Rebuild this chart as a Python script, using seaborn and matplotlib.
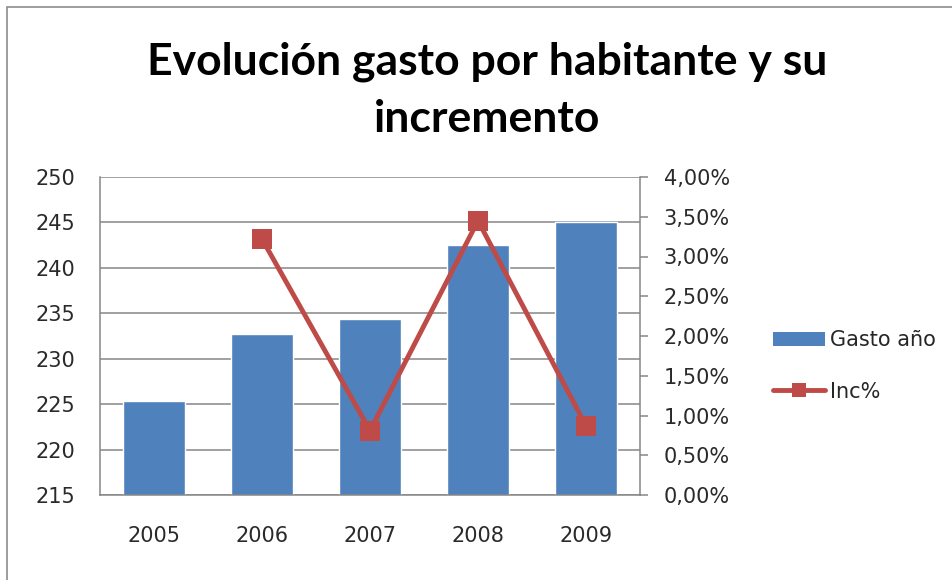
import matplotlib
matplotlib.use('Agg')
import matplotlib.pyplot as plt
import seaborn as sns
import pandas as pd
import numpy as np
from matplotlib.ticker import FuncFormatter
from matplotlib.patches import Patch, Rectangle
from matplotlib.lines import Line2D

# ---- data ----
years = ['2005', '2006', '2007', '2008', '2009']
gasto = [225.3, 232.7, 234.4, 242.5, 245.0]
inc = [np.nan, 0.0322, 0.0081, 0.0345, 0.0087]
left_ticks = [215, 220, 225, 230, 235, 240, 245, 250]
right_ticks = [0.0, 0.005, 0.01, 0.015, 0.02, 0.025, 0.03, 0.035, 0.04]
series_names = ['Gasto año', 'Inc%']
title = 'Evolución gasto por habitante y su\nincremento'

df = pd.DataFrame({'year': years, 'gasto': gasto, 'inc': inc})

BAR = '#4F81BD'
LINE = '#BE4B48'
GRID = '#868686'

sns.set_theme(style='white')
plt.rcParams['font.family'] = ['DejaVu Sans']

fig = plt.figure(figsize=(9.53, 5.80), dpi=100)
W, H = 953, 580
ax = fig.add_axes([100 / W, 85 / H, 540 / W, 318 / H])

sns.barplot(data=df, x='year', y='gasto', order=years, color=BAR,
            saturation=1, width=0.58, ax=ax, zorder=2, errorbar=None)
ax.set_ylim(215, 250)
ax.set_yticks(left_ticks)
ax.set_yticklabels([str(t) for t in left_ticks])
ax.yaxis.grid(True, color=GRID, lw=1.1)
ax.set_axisbelow(True)
ax.set_xlabel('')
ax.set_ylabel('')
for s in ['top', 'right']:
    ax.spines[s].set_visible(False)
for s in ['left', 'bottom']:
    ax.spines[s].set_color(GRID)
    ax.spines[s].set_linewidth(1.1)
ax.tick_params(axis='y', length=0, pad=18, labelsize=15, colors='#2a2a2a')
ax.tick_params(axis='x', length=0, pad=22, labelsize=15, colors='#2a2a2a')

ax2 = ax.twinx()
sns.pointplot(data=df, x='year', y='inc', order=years, ax=ax2, color=LINE,
              markers='s', markersize=15, linewidth=3.5, errorbar=None,
              markeredgewidth=0)
ax2.set_ylim(0, 0.04)
ax2.set_yticks(right_ticks)
ax2.yaxis.set_major_formatter(FuncFormatter(lambda v, p: f"{v*100:.2f}".replace('.', ',') + '%'))
ax2.set_ylabel('')
ax2.set_xlabel('')
for s in ['top', 'left', 'bottom']:
    ax2.spines[s].set_visible(False)
ax2.spines['right'].set_color(GRID)
ax2.spines['right'].set_linewidth(1.1)
ax2.tick_params(axis='y', length=6, width=1.1, color=GRID, pad=11, labelsize=15, colors='#2a2a2a')
ax2.tick_params(axis='y', color=GRID)
ax.set_xlim(-0.5, len(years) - 0.5)

handles = [Patch(facecolor=BAR, edgecolor='none'),
           Line2D([0], [0], color=LINE, lw=3.5, marker='s', markersize=10, markeredgewidth=0)]
fig.legend(handles, series_names, loc='center left',
           bbox_to_anchor=(773 / W, 1 - 366 / H), frameon=False, fontsize=15,
           handlelength=2.5, handletextpad=0.25, labelspacing=1.5, borderpad=0,
           borderaxespad=0)

fig.text(487 / W, 1 - 90 / H, title, ha='center', va='center', fontsize=32,
         fontweight='bold', family=['Lato', 'DejaVu Sans'], linespacing=1.5, color='black')

fig.add_artist(Rectangle((7 / W, -0.1), 1.2, 1 - 7 / H + 0.1, transform=fig.transFigure,
                         fill=False, edgecolor='#8c8c8c', lw=1.2))

fig.savefig('out.png', dpi=100)
